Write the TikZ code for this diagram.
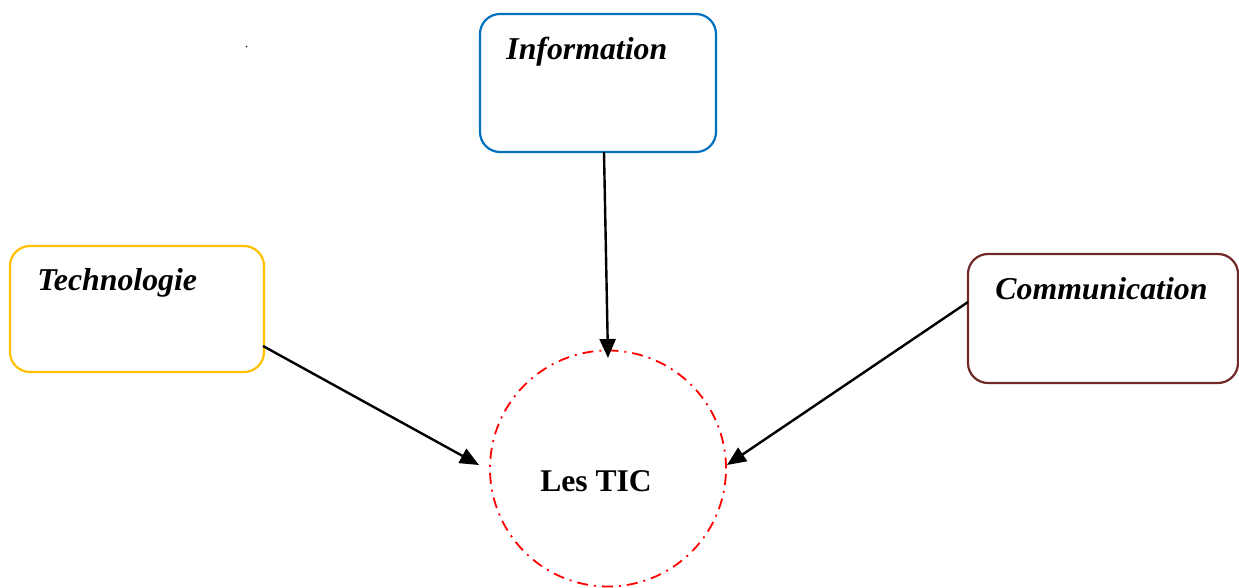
\documentclass[tikz,border=0pt]{standalone}
\usepackage{fontspec}
\setmainfont{Liberation Serif}
\usetikzlibrary{arrows.meta}
\definecolor{infoblue}{RGB}{0,112,192}
\definecolor{techgold}{RGB}{255,192,0}
\definecolor{comred}{RGB}{112,40,40}
\definecolor{ticred}{RGB}{255,0,0}
\begin{document}
\begin{tikzpicture}[x=0.5pt,y=-0.5pt,
  boxnode/.style={draw, line width=1.1pt, rounded corners=10pt, inner sep=0pt, fill=white},
  lbl/.style={anchor=base west, inner sep=0pt, font=\fontsize{15.9}{19}\selectfont\bfseries\itshape},
  conn/.style={draw=black, line width=1.2pt, -{Triangle[length=9.5pt,width=8pt]}}]
\useasboundingbox (0,0) rectangle (1239,588);
% boxes
\node[boxnode, draw=infoblue, minimum width=118pt, minimum height=69pt] (info) at (598,83) {};
\node[boxnode, draw=techgold, minimum width=127pt, minimum height=63pt] (tech) at (137,309) {};
\node[boxnode, draw=comred, minimum width=135pt, minimum height=64.5pt] (comm) at (1103,318.5) {};
% labels
\node[lbl] (infotxt) at (506,60) {Information};
\node[lbl] (techtxt) at (37,291) {Technologie};
\node[lbl] (commtxt) at (995,300) {Communication};
% circle
\node[circle, draw=ticred, line width=0.9pt, dash pattern=on 5.5pt off 3pt on 1pt off 3pt, minimum size=118pt, inner sep=0pt] (tic) at (608,468.5) {};
\node[anchor=base, inner sep=0pt, font=\fontsize{15.8}{19}\selectfont\bfseries] (tictxt) at (596,492) {Les TIC};
% tiny dot
\fill (246.5,46.5) circle (0.4pt);
% connector end points
\coordinate (infoout) at (604,152);
\coordinate (infoin) at (608,358);
\coordinate (techout) at (263,346);
\coordinate (techin) at (479,465);
\coordinate (commout) at (968,302);
\coordinate (commin) at (727,465);
\draw[conn] (infoout) -- (infoin);
\draw[conn] (techout) -- (techin);
\draw[conn] (commout) -- (commin);
\end{tikzpicture}
\end{document}
